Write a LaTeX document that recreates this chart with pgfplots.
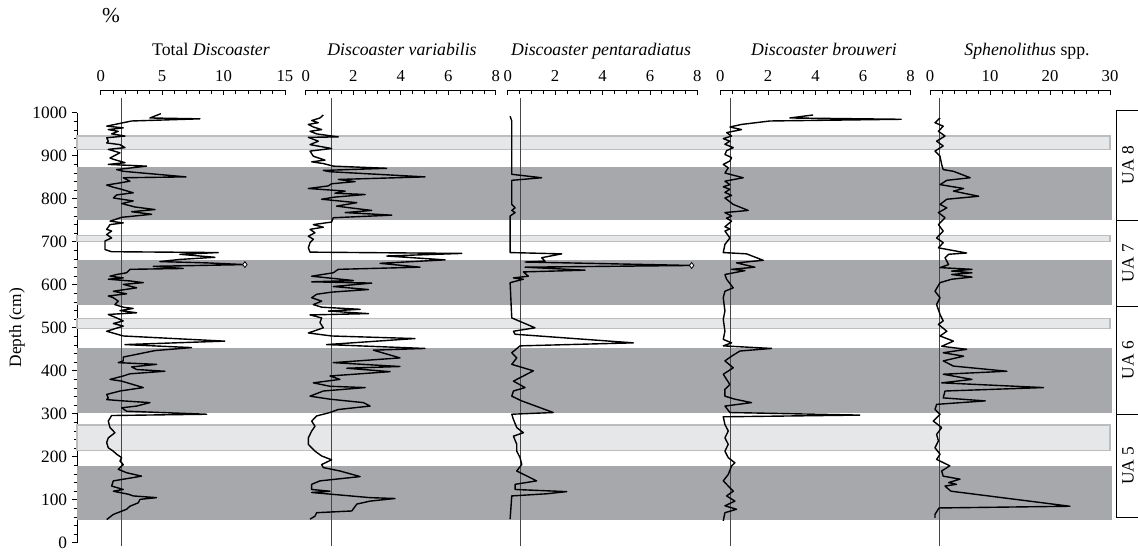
\documentclass[border=0pt]{standalone}
\usepackage{fontspec}
\setmainfont{Liberation Serif}
\usepackage{pgfplots}
\usepackage{pgfplotstable}
\pgfplotsset{compat=1.18}

\definecolor{bandDark}{RGB}{167,168,172}
\definecolor{bandLight}{RGB}{230,231,233}
\definecolor{bandEdge}{RGB}{188,189,191}
\definecolor{refLine}{RGB}{70,70,70}

% percent (v) against depth in cm (d)
\pgfplotstableread{
v d
4.90 998
4.01 988
8.08 986
2.52 981
0.49 969
1.84 965
0.62 961
1.43 957
0.89 951
1.98 946
0.49 942
0.62 934
0.49 930
1.57 926
1.98 919
0.62 915
1.57 907
0.76 895
1.03 892
1.98 884
0.62 880
3.74 876
1.30 868
1.84 864
6.94 851
1.84 849
2.38 841
1.57 837
0.49 832
1.03 827
1.71 822
2.65 814
1.30 809
1.03 802
2.65 795
1.71 789
2.79 781
4.42 775
2.52 770
4.15 764
1.71 757
0.76 748
1.84 744
0.76 740
0.49 729
0.89 725
0.49 717
0.89 709
0.35 702
0.35 682
0.89 677
9.57 675
6.45 671
9.30 664
6.45 659
4.82 654
8.62 651
11.74 647
4.28 643
6.72 638
2.38 636
2.11 628
1.30 624
0.76 620
1.84 616
0.62 613
2.38 609
3.47 605
1.84 601
2.93 593
1.03 585
2.11 579
0.62 574
1.03 570
1.43 562
1.16 554
1.84 548
2.65 545
1.57 540
2.93 535
0.62 531
1.30 523
1.84 516
1.03 510
1.84 504
0.49 492
1.84 481
10.10 469
1.98 461
7.40 454
4.42 447
1.84 432
1.84 423
1.43 419
4.55 415
2.52 409
2.93 403
5.23 399
2.38 393
1.84 388
0.76 380
1.71 376
3.47 361
1.57 353
0.49 345
0.62 337
0.49 333
1.84 330
4.01 326
2.93 318
1.71 314
2.11 306
8.62 299
0.89 296
0.62 283
0.76 268
1.16 256
0.62 244
0.49 233
0.62 221
1.03 213
1.30 206
1.71 198
1.57 190
1.84 182
1.43 171
2.11 163
3.33 155
1.03 144
0.89 132
1.84 124
1.03 120
2.25 113
2.65 109
4.55 105
3.20 101
3.06 93
2.38 85
2.11 78
1.57 72
1.03 66
0.76 60
0.49 54
}\totaldisc

\pgfplotstableread{
v d
0.74 995
0.60 988
0.25 982
0.53 977
0.11 973
0.32 967
0.67 961
0.18 957
0.46 951
1.37 944
0.11 943
0.53 934
0.18 926
1.09 917
0.18 911
0.32 899
0.81 890
0.25 886
0.74 882
1.16 876
3.41 871
0.74 866
1.02 863
5.02 851
1.37 845
2.08 840
1.09 835
0.95 830
0.11 824
1.66 818
1.23 813
2.50 810
1.23 804
0.67 799
2.15 791
1.30 783
1.87 779
2.78 773
1.66 768
3.62 762
1.16 756
1.09 746
0.32 740
0.74 734
0.18 729
0.39 721
0.11 713
0.32 706
0.18 698
0.11 686
0.18 676
6.57 673
3.41 667
5.87 658
3.13 650
4.81 641
1.37 636
1.16 628
0.25 620
0.95 616
2.01 610
0.25 607
2.78 604
1.16 596
2.64 589
1.09 583
0.46 578
0.25 570
0.67 562
0.32 554
0.67 548
2.29 543
0.95 539
2.64 533
0.18 530
0.67 523
0.60 512
0.74 500
0.11 488
1.09 481
4.60 475
0.88 461
5.02 452
2.85 448
3.97 430
1.16 419
3.97 410
1.73 406
3.55 398
1.02 388
1.44 380
0.32 372
1.02 364
2.50 361
0.74 353
0.18 341
1.02 334
2.43 326
2.71 318
1.37 310
1.02 303
0.46 295
0.25 283
0.39 271
0.25 260
0.11 244
0.11 229
0.39 213
0.67 202
1.09 193
0.67 182
0.74 175
1.44 167
2.29 154
0.60 144
0.25 136
0.25 124
1.02 120
0.25 117
2.71 105
3.76 103
2.71 97
2.15 90
1.94 74
0.46 70
0.39 62
0.18 55
}\variabilis

\pgfplotstableread{
v d
0.10 992
0.17 981
0.17 857
1.43 849
0.17 843
0.17 787
0.31 779
0.17 773
0.31 768
0.10 760
0.10 675
2.28 672
1.43 663
1.57 655
0.73 653
7.76 645
0.73 641
3.26 634
0.66 630
0.87 620
0.24 616
0.66 613
0.10 605
0.17 523
1.15 500
0.24 492
0.31 485
5.30 465
0.52 458
0.17 442
0.38 430
0.17 415
1.08 400
0.80 392
0.24 376
0.73 361
0.24 353
0.17 341
0.59 330
1.92 303
0.17 299
0.24 287
0.38 268
0.66 256
0.24 248
0.38 229
0.38 213
0.52 198
0.59 182
0.38 167
1.22 144
0.31 136
0.31 124
2.49 119
1.64 114
0.17 109
0.10 55
}\pentaradiatus

\pgfplotstableread{
v d
3.90 995
2.92 988
7.60 985
2.08 981
0.89 973
0.40 967
0.89 961
0.26 954
0.47 946
0.12 940
0.40 934
0.19 927
0.54 919
0.26 912
0.19 903
0.47 896
0.40 888
0.12 880
0.33 872
0.19 860
0.96 849
0.19 841
0.40 833
0.12 828
0.40 822
0.19 815
0.47 808
0.19 802
0.54 787
1.17 773
0.19 768
0.47 760
0.26 755
0.47 748
0.19 735
0.40 730
0.19 725
0.40 709
0.19 694
0.12 675
1.10 672
1.80 657
0.68 651
1.45 641
0.47 636
1.03 633
0.19 624
0.26 613
0.54 593
0.19 585
0.12 570
0.19 539
0.12 520
0.19 492
0.12 473
0.47 465
0.12 458
2.15 452
0.82 446
0.47 434
0.19 423
0.54 407
0.12 392
0.40 368
0.19 357
0.19 341
0.61 334
1.31 326
0.19 318
0.40 303
5.86 297
0.12 293
0.19 275
0.33 260
0.19 244
0.33 229
0.19 213
0.33 198
0.61 186
0.47 179
0.33 159
0.12 144
0.54 120
0.26 109
0.61 97
0.19 86
0.68 78
0.19 70
0.12 51
}\brouweri

\pgfplotstableread{
v d
1.67 988
0.83 977
2.20 969
1.40 957
2.50 946
1.10 934
2.20 923
0.83 911
1.67 899
1.94 880
2.20 868
3.90 864
6.70 849
2.80 843
1.67 833
5.60 824
3.90 818
8.10 806
2.80 799
1.67 787
2.80 779
1.40 768
2.50 756
1.40 740
2.20 725
1.10 709
2.20 698
1.40 686
6.10 674
3.10 671
2.50 663
3.10 647
1.67 640
7.00 636
3.60 632
7.00 628
3.60 624
7.00 618
3.60 613
1.67 605
0.83 585
1.67 570
1.10 554
1.67 531
2.20 516
1.40 508
2.80 492
1.67 481
3.90 469
1.94 457
6.10 450
2.20 442
5.60 434
2.20 423
3.90 411
12.80 399
2.20 392
7.00 380
1.94 372
18.90 361
2.50 353
2.20 337
9.20 330
1.10 322
0.83 310
1.67 299
0.55 283
1.94 268
1.10 252
1.40 237
0.83 221
1.67 206
1.10 194
3.30 179
1.94 167
2.20 155
5.00 148
3.10 140
4.40 136
2.50 132
2.80 128
3.50 120
23.30 85
1.50 81
0.83 66
0.83 58
}\sphenolithus

\pgfplotsset{
  panel/.style={
    scale only axis, anchor=south west,
    height=343.6pt, ymin=-12, ymax=1053.5,
    axis x line*=top, axis y line=none,
    ytick=\empty,
    tick align=inside,
    major tick length=3.9pt, minor tick length=2.8pt,
    every tick/.style={black, line width=0.5pt},
    every axis x line/.style={line width=0.6pt},
    xticklabel style={anchor=base, yshift=6.5pt, font=\fontsize{12.5}{14}\selectfont},
    /pgf/number format/assume math mode=true,
    clip=false,
  },
  series/.style={black, line width=1.05pt, line join=round},
  refline/.style={refLine, line width=0.6pt},
}

\begin{document}
\begin{tikzpicture}
\useasboundingbox (0,0) rectangle (853.5pt,414pt);

% depth axis, bands and unit brackets
\begin{axis}[
  scale only axis, anchor=south west, at={(57.75pt,6.9pt)},
  width=795.75pt, height=322.5pt,
  xmin=77, xmax=1138, ymin=0, ymax=1000,
  axis x line=none, axis y line*=left,
  ytick={0,100,...,1000}, minor y tick num=4,
  tick align=outside,
  major tick length=3.9pt, minor tick length=2.4pt,
  every tick/.style={black, line width=0.5pt},
  every axis y line/.style={line width=0.6pt},
  yticklabel style={font=\fontsize{13}{15}\selectfont},
  /pgf/number format/1000 sep={},
  /pgf/number format/assume math mode=true,
  clip=false,
]
% dark intervals
\addplot[fill=bandDark, draw=none] coordinates {(77,750) (1112,750) (1112,875) (77,875)} -- cycle;
\addplot[fill=bandDark, draw=none] coordinates {(77,553) (1112,553) (1112,657) (77,657)} -- cycle;
\addplot[fill=bandDark, draw=none] coordinates {(77,301) (1112,301) (1112,454) (77,454)} -- cycle;
\addplot[fill=bandDark, draw=none] coordinates {(77,54) (1112,54) (1112,178) (77,178)} -- cycle;
% light intervals
\addplot[fill=bandLight, draw=bandEdge, line width=0.9pt] coordinates {(77,915) (1110,915) (1110,946) (77,946)} -- cycle;
\addplot[fill=bandLight, draw=bandEdge, line width=0.9pt] coordinates {(77,701) (1110,701) (1110,715) (77,715)} -- cycle;
\addplot[fill=bandLight, draw=bandEdge, line width=0.9pt] coordinates {(77,499) (1110,499) (1110,522) (77,522)} -- cycle;
\addplot[fill=bandLight, draw=bandEdge, line width=0.9pt] coordinates {(77,214) (1110,214) (1110,274) (77,274)} -- cycle;

% unit bracket on the right
\addplot[black, line width=0.6pt] coordinates {(1138,1006) (1116,1006) (1116,58) (1138,58)};
\addplot[black, line width=0.6pt] coordinates {(1116,750) (1138,750)};
\addplot[black, line width=0.6pt] coordinates {(1116,550) (1138,550)};
\addplot[black, line width=0.6pt] coordinates {(1116,299) (1138,299)};
\node[rotate=90, font=\fontsize{13}{15}\selectfont] at (axis cs:1128,878) {UA 8};
\node[rotate=90, font=\fontsize{13}{15}\selectfont] at (axis cs:1128,650) {UA 7};
\node[rotate=90, font=\fontsize{13}{15}\selectfont] at (axis cs:1128,425) {UA 6};
\node[rotate=90, font=\fontsize{13}{15}\selectfont] at (axis cs:1128,179) {UA 5};

% headings
\node[rotate=90, font=\fontsize{13}{15}\selectfont] at (axis cs:17,500) {Depth (cm)};
\node[font=\fontsize{16}{18}\selectfont] at (axis cs:111,1226) {\%};
\begin{scope}[every node/.style={anchor=base, font=\fontsize{13.3}{15}\selectfont}]
\node at (axis cs:211,1133) {Total \textit{Discoaster}};
\node at (axis cs:402,1133) {\textit{Discoaster variabilis}};
\node at (axis cs:601,1133) {\textit{Discoaster pentaradiatus}};
\node at (axis cs:824,1133) {\textit{Discoaster brouweri}};
\node at (axis cs:1027,1133) {\textit{Sphenolithus} spp.};
\end{scope}
\end{axis}

% Total Discoaster
\begin{axis}[panel, at={(75.5pt,3.03pt)}, width=138.2pt,
  xmin=0, xmax=15, xtick={0,5,10,15}, minor x tick num=4]
\addplot[refline] coordinates {(1.65,-8) (1.65,1035)};
\addplot[series] table[x=v, y=d] {\totaldisc};
\addplot[only marks, mark=diamond*, mark size=2.2pt, mark options={fill=white, draw=black, line width=0.6pt}] coordinates {(11.74,647)};
\end{axis}

% Discoaster variabilis
\begin{axis}[panel, at={(229.3pt,3.03pt)}, width=142.5pt,
  xmin=0, xmax=8, xtick={0,2,4,6,8}, minor x tick num=3]
\addplot[refline] coordinates {(1.06,-8) (1.06,1035)};
\addplot[series] table[x=v, y=d] {\variabilis};
\end{axis}

% Discoaster pentaradiatus
\begin{axis}[panel, at={(380.8pt,3.03pt)}, width=142.2pt,
  xmin=0, xmax=8, xtick={0,2,4,6,8}, minor x tick num=3]
\addplot[refline] coordinates {(0.52,-8) (0.52,1035)};
\addplot[series] table[x=v, y=d] {\pentaradiatus};
\addplot[only marks, mark=diamond*, mark size=2.2pt, mark options={fill=white, draw=black, line width=0.6pt}] coordinates {(7.76,645)};
\end{axis}

% Discoaster brouweri
\begin{axis}[panel, at={(540.3pt,3.03pt)}, width=142.65pt,
  xmin=0, xmax=8, xtick={0,2,4,6,8}, minor x tick num=3]
\addplot[refline] coordinates {(0.40,-8) (0.40,1035)};
\addplot[series] table[x=v, y=d] {\brouweri};
\end{axis}

% Sphenolithus spp.
\begin{axis}[panel, at={(697.5pt,3.03pt)}, width=135pt,
  xmin=0, xmax=30, xtick={0,10,20,30}, minor x tick num=4]
\addplot[refline] coordinates {(1.6,-8) (1.6,1035)};
\addplot[series] table[x=v, y=d] {\sphenolithus};
\end{axis}
\end{tikzpicture}
\end{document}
